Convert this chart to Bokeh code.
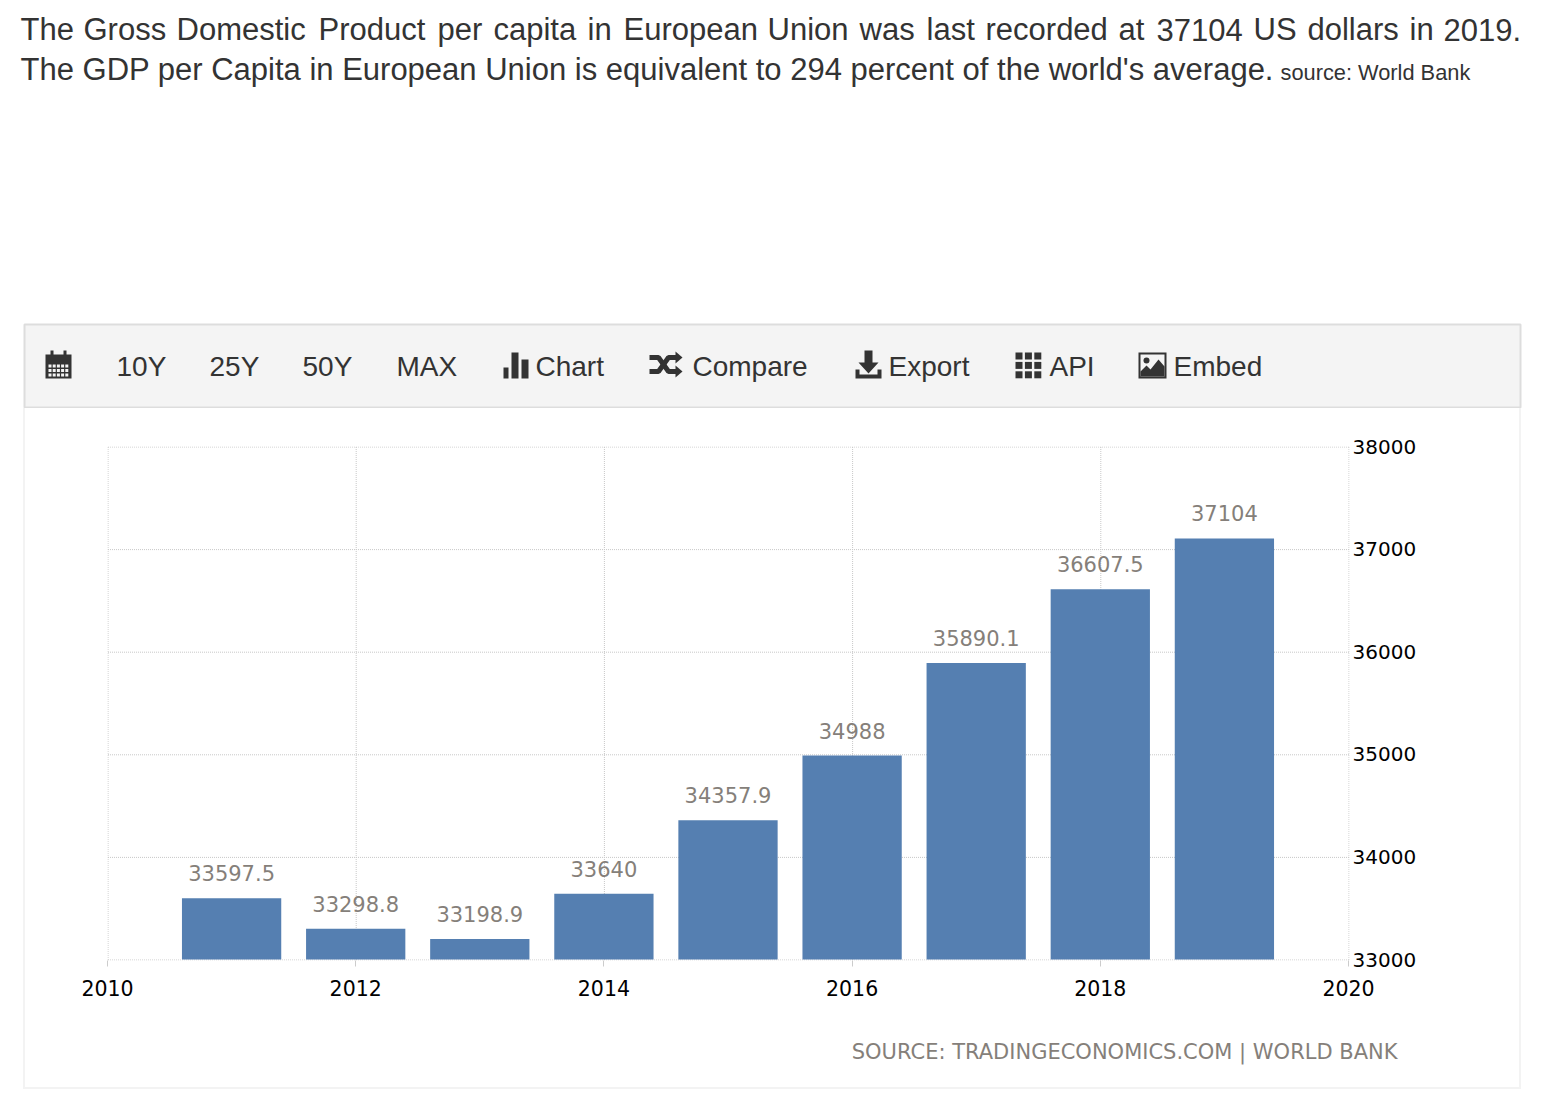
from bokeh.plotting import figure
from bokeh.layouts import column
from bokeh.embed import file_html
from bokeh.resources import INLINE
from bokeh.models import ColumnDataSource, Range1d, LinearAxis, FixedTicker
from bokeh.core.properties import value

years = [2011, 2012, 2013, 2014, 2015, 2016, 2017, 2018, 2019]
gdp = [33597.5, 33298.8, 33198.9, 33640, 34357.9, 34988, 35890.1, 36607.5, 37104]
labels = ["33597.5", "33298.8", "33198.9", "33640", "34357.9", "34988", "35890.1", "36607.5", "37104"]
x_ticks = [2010, 2012, 2014, 2016, 2018, 2020]
y_ticks = [33000, 34000, 35000, 36000, 37000, 38000]
line1_words = ["The", "Gross", "Domestic", "Product", "per", "capita", "in", "European", "Union", "was", "last", "recorded", "at", "37104", "US", "dollars", "in", "2019."]
line1_x = [20, 83, 176, 318, 437, 493, 587, 623, 767, 859, 926, 985, 1118, 1156, 1253, 1307, 1409, 1443]
line2 = "The GDP per Capita in European Union is equivalent to 294 percent of the world's average."
source_note = "source: World Bank"
menu = ["10Y", "25Y", "50Y", "MAX", "Chart", "Compare", "Export", "API", "Embed"]
menu_x = [116, 209, 302, 396, 535, 692, 888, 1049, 1173]
footer = "SOURCE: TRADINGECONOMICS.COM | WORLD BANK"

DARK = "#333333"
GREY = "#857F7A"
BAR_TOP = 408
FOOT_TOP = 1020

# ---------- header: title text and the menu strip ----------
h = figure(width=1540, height=BAR_TOP, output_backend="svg", toolbar_location=None,
           x_range=Range1d(0, 1540), y_range=Range1d(BAR_TOP, 0),
           min_border=0, min_border_left=0, min_border_right=0, min_border_top=0, min_border_bottom=0,
           outline_line_color=None, x_axis_location=None, y_axis_location=None, frame_align=False)
h.grid.visible = False

def txt(fig, x, y, t, size, color=DARK, font="Liberation Sans"):
    fig.text(x=x, y=y, text=t, text_font=value(font), text_font_size=f"{size}px", text_color=color,
             text_align="left", text_baseline="middle")

txt(h, line1_x, [29] * len(line1_x), line1_words, 31)
txt(h, [20], [69], [line2], 31)
txt(h, [1280], [72], [source_note], 21.8)
h.quad(left=[24], right=[1520], top=[324], bottom=[407], fill_color="#f4f4f4", line_color="#dddddd", line_width=2)
txt(h, menu_x, [366] * len(menu), menu, 28)

# icons
# calendar
h.quad(left=[45, 50, 63], right=[71, 53, 66], top=[354, 350, 350], bottom=[378, 355, 355], fill_color=DARK, line_color=None)
cx = [48 + 4.2 * i for i in range(5) for _ in range(3)]
cy = [364 + 4.5 * j for _ in range(5) for j in range(3)]
h.quad(left=cx, right=[v + 3 for v in cx], top=cy, bottom=[v + 3 for v in cy], fill_color="#f4f4f4", line_color=None)
# bars
h.quad(left=[503, 511, 521], right=[508, 518, 528], top=[367, 352, 359], bottom=[378, 378, 378], fill_color=DARK, line_color=None)
# shuffle
h.multi_line(xs=[[649, 658, 668, 676], [649, 658, 668, 676]], ys=[[357, 357, 371, 371], [371, 371, 357, 357]],
             line_color=DARK, line_width=5)
h.patches(xs=[[675, 682, 675], [675, 682, 675]], ys=[[351, 357, 363], [365, 371, 377]], fill_color=DARK, line_color=None)
# export
h.patch(x=[864, 872, 872, 878, 868, 858, 864], y=[350, 350, 362, 362, 373, 362, 362], fill_color=DARK, line_color=None)
h.patch(x=[855, 859, 859, 877, 877, 881, 881, 855], y=[369, 369, 374, 374, 369, 369, 378, 378], fill_color=DARK, line_color=None)
# API grid
gx = [1015 + 9.4 * i for i in range(3) for _ in range(3)]
gy = [352 + 9.4 * j for _ in range(3) for j in range(3)]
h.quad(left=gx, right=[v + 7 for v in gx], top=gy, bottom=[v + 7 for v in gy], fill_color=DARK, line_color=None)
# embed
h.quad(left=[1138], right=[1166], top=[352], bottom=[378], fill_color=DARK, line_color=None)
h.quad(left=[1140], right=[1164], top=[354], bottom=[376], fill_color="#f4f4f4", line_color=None)
h.circle(x=[1146], y=[360], radius=3, fill_color=DARK, line_color=None)
h.patch(x=[1140, 1140, 1146, 1150, 1158, 1164, 1164], y=[376, 371, 365, 369, 359, 366, 376], fill_color=DARK, line_color=None)

# ---------- chart ----------
CARD_L, CARD_R, CARD_B = 23, 1521, 1089
L, R, T, B = 107, 1348, 446, 961
PX = (R - L) / (x_ticks[-1] - x_ticks[0])
PY = (B - T) / (y_ticks[-1] - y_ticks[0])
# the frame is one pixel larger on the right and the bottom, so that edge grid lines are not clipped
p = figure(width=CARD_R - CARD_L, height=FOOT_TOP - BAR_TOP, output_backend="svg", toolbar_location=None,
           x_range=Range1d(x_ticks[0], x_ticks[-1] + 1 / PX), y_range=Range1d(y_ticks[0] - 1 / PY, y_ticks[-1]),
           min_border_left=L - CARD_L - 2, min_border_right=CARD_R - R + 1, min_border_top=T - BAR_TOP, min_border_bottom=60,
           outline_line_color=None, background_fill_color="white", border_fill_color="white",
           x_axis_location=None, y_axis_location=None, margin=(0, 0, 0, CARD_L), frame_align=False,
           styles={"border-left": "2px solid #f3f3f3", "border-right": "2px solid #f3f3f3", "box-sizing": "border-box"})
p.grid.visible = False
# half-pixel shifted ranges give crisp dotted grid lines
p.extra_x_ranges = {"gx": Range1d(x_ticks[0] - 0.5 / PX, x_ticks[-1] + 0.5 / PX)}
p.extra_y_ranges = {"gy": Range1d(y_ticks[0] - 0.5 / PY, y_ticks[-1] + 0.5 / PY)}

n = len(x_ticks)
m = len(y_ticks)
p.segment(x0=x_ticks, x1=x_ticks, y0=[y_ticks[0]] * n, y1=[y_ticks[-1]] * n, line_color="#c8c8c8", line_dash="1 1", line_width=1,
          x_range_name="gx", y_range_name="gy")
p.segment(x0=[x_ticks[0]] * m, x1=[x_ticks[-1]] * m, y0=y_ticks, y1=y_ticks, line_color="#c8c8c8", line_dash="1 1", line_width=1,
          x_range_name="gx", y_range_name="gy")

src = ColumnDataSource(dict(x=years, y=gdp, t=labels))
p.vbar(x="x", top="y", bottom=33000, width=0.8, source=src, fill_color="#557FB1", line_color=None)
p.text(x="x", y="y", text="t", source=src, text_font=value("DejaVu Sans"), text_font_size="21px",
       text_color=GREY, text_align="center", text_baseline="middle", y_offset=-25)

xa = LinearAxis(ticker=FixedTicker(ticks=x_ticks))
xa.axis_line_color = None
xa.major_tick_line_color = "#cccccc"
xa.major_tick_in = 0
xa.major_tick_out = 6
xa.minor_tick_line_color = None
xa.major_label_text_font = "DejaVu Sans"
xa.major_label_text_font_size = "20.5px"
xa.major_label_text_color = "black"
xa.major_label_standoff = 13
xa.formatter.use_scientific = False
p.add_layout(xa, "below")

ya = LinearAxis(ticker=FixedTicker(ticks=y_ticks))
ya.axis_line_color = None
ya.major_tick_line_color = None
ya.minor_tick_line_color = None
ya.major_tick_in = 0
ya.major_tick_out = 0
ya.major_label_text_font = "DejaVu Sans"
ya.major_label_text_font_size = "20px"
ya.major_label_text_color = "black"
ya.major_label_standoff = 3
ya.formatter.use_scientific = False
p.add_layout(ya, "right")

# ---------- footer of the chart card ----------
f = figure(width=CARD_R - CARD_L, height=CARD_B - FOOT_TOP, output_backend="svg", toolbar_location=None,
           x_range=Range1d(CARD_L + 2, CARD_R - 2), y_range=Range1d(CARD_B - 2, FOOT_TOP),
           min_border=0, min_border_left=0, min_border_right=0, min_border_top=0, min_border_bottom=0,
           outline_line_color=None, x_axis_location=None, y_axis_location=None, margin=(0, 0, 0, CARD_L), frame_align=False,
           styles={"border-left": "2px solid #f3f3f3", "border-right": "2px solid #f3f3f3",
                   "border-bottom": "2px solid #f3f3f3", "box-sizing": "border-box"})
f.grid.visible = False
txt(f, [849], [1051], [footer], 21, GREY, "DejaVu Sans")

page = column(h, p, f, spacing=0)
open("out.html", "w").write(file_html(page, INLINE))
